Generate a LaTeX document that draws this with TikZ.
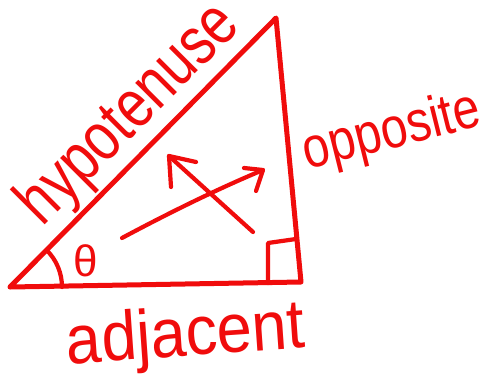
\documentclass[tikz,border=0pt]{standalone}
\usepackage{fontspec}
\setmainfont{Liberation Sans}
\definecolor{pen}{RGB}{240,12,12}
\begin{document}
\begin{tikzpicture}[x=1pt,y=-1pt,
  ink/.style={draw=pen,line width=5pt,line cap=round,line join=round},
  thin ink/.style={draw=pen,line width=4.2pt,line cap=round,line join=round},
  word/.style={text=pen,inner sep=0pt,anchor=center}]
\useasboundingbox (0,0) rectangle (493,376);
\fill[white] (0,0) rectangle (493,376);
% vertices
\coordinate (A) at (10,287);
\coordinate (B) at (301,282);
\coordinate (C) at (276,18);
% triangle
\draw[ink] (A) -- (C) -- (B) -- (A);
% right angle box
\coordinate (S1) at (268,283);
\coordinate (S2) at (268,243);
\coordinate (S3) at (296,239);
\draw[thin ink] (S1) -- (S2) -- (S3);
% angle arc
\draw[thin ink] ([shift={(-45:52)}]A) arc[start angle=-45,end angle=0,radius=52];
% theta
\node[word,font=\fontsize{44}{44}\selectfont] (theta) at (86,261) {θ};
% arrows
\coordinate (T1) at (122,238);
\coordinate (H1) at (263,170);
\draw[thin ink] (T1) .. controls (165,215) and (215,190) .. (H1);
\draw[thin ink] (244,168) -- (H1) -- (256,191);
\coordinate (T2) at (253,232);
\coordinate (H2) at (169,156);
\draw[thin ink] (T2) -- (H2);
\draw[thin ink] (196,162) -- (H2) -- (171,187);
% labels
\node[word,rotate=45,font=\fontsize{62}{62}\selectfont] (hyp) at (130,115) {\scalebox{0.88}[1.1]{hypotenuse}};
\node[word,rotate=14,font=\fontsize{48}{48}\selectfont] (opp) at (392,133) {\scalebox{1}[1.2]{opposite}};
\node[word,rotate=4,font=\fontsize{62}{62}\selectfont] (adj) at (186,338) {\scalebox{1.02}[1.12]{adjacent}};
\end{tikzpicture}
\end{document}
